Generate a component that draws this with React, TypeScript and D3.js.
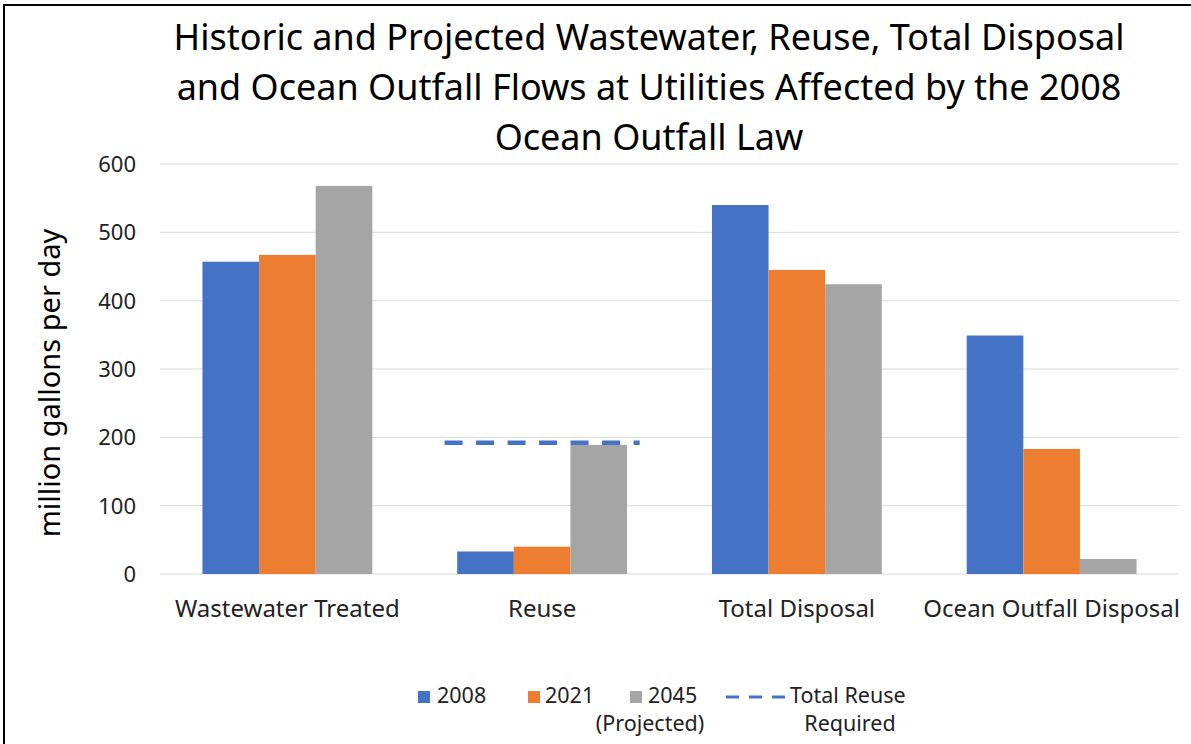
import React from "react";
import * as d3 from "d3";

const categories = ["Wastewater Treated", "Reuse", "Total Disposal", "Ocean Outfall Disposal"];
const seriesNames = ["2008", "2021", "2045"];
const values2008 = [457, 33, 540, 349];
const values2021 = [467, 40, 445, 183];
const values2045 = [568, 189, 424, 22];
const reuseRequired = 192;
const yTicks = [0, 100, 200, 300, 400, 500, 600];
const titleLines = [
  "Historic and Projected Wastewater, Reuse, Total Disposal",
  "and Ocean Outfall Flows at Utilities Affected by the 2008",
  "Ocean Outfall Law",
];
const colors = ["#4472C4", "#ED7D31", "#A5A5A5"];

const W = 1191;
const H = 744;
const FONT = "'Noto Sans', 'Open Sans', sans-serif";

export default function App() {
  const left = 160;
  const right = 1179;
  const top = 164;
  const bottom = 574;

  const x0 = d3.scaleBand<string>().domain(categories).range([left, right]).paddingInner(0).paddingOuter(0);
  const y = d3.scaleLinear().domain([0, 600]).range([bottom, top]);
  const groupW = x0.bandwidth() * (3 / 4.5);
  const x1 = d3
    .scaleBand<string>()
    .domain(seriesNames)
    .range([0, groupW]);
  const seriesValues = [values2008, values2021, values2045];

  const reuseCenter = (x0("Reuse") as number) + x0.bandwidth() / 2;
  const lineHalf = x0.bandwidth() * 0.383;

  return (
    <svg
      width={W}
      height={H}
      style={{ position: "absolute", left: 0, top: 0, background: "#fff" }}
      fontFamily={FONT}
    >
      <rect x={0} y={0} width={W} height={H} fill="#fff" />
      {/* border */}
      <line x1={4} y1={5} x2={W} y2={5} stroke="#000" strokeWidth={2} />
      <line x1={4} y1={4} x2={4} y2={H} stroke="#000" strokeWidth={2} />

      {/* title */}
      {titleLines.map((t, i) => (
        <text key={i} x={649} y={50 + i * 50} textAnchor="middle" fontSize={36} fill="#000">
          {t}
        </text>
      ))}

      {/* gridlines */}
      {yTicks.map((t) => (
        <line key={t} x1={left} x2={right} y1={y(t)} y2={y(t)} stroke="#D9D9D9" strokeWidth={1} />
      ))}

      {/* y tick labels */}
      {yTicks.map((t) => (
        <text key={"l" + t} x={136} y={y(t)} dy="0.36em" textAnchor="end" fontSize={22} fill="#222">
          {t}
        </text>
      ))}

      {/* y axis title */}
      <text
        transform={`translate(${60},${383}) rotate(-90)`}
        textAnchor="middle"
        fontSize={29}
        fill="#000"
      >
        million gallons per day
      </text>

      {/* bars */}
      {categories.map((c, ci) => {
        const gx = (x0(c) as number) + (x0.bandwidth() - groupW) / 2;
        return (
          <g key={c}>
            {seriesNames.map((s, si) => {
              const v = seriesValues[si][ci];
              return (
                <rect
                  key={s}
                  x={gx + (x1(s) as number)}
                  y={y(v)}
                  width={x1.bandwidth()}
                  height={y(0) - y(v)}
                  fill={colors[si]}
                />
              );
            })}
          </g>
        );
      })}

      {/* reuse required dashed line */}
      <line
        x1={reuseCenter - lineHalf}
        x2={reuseCenter + lineHalf}
        y1={y(reuseRequired)}
        y2={y(reuseRequired)}
        stroke="#4472C4"
        strokeWidth={4.5}
        strokeDasharray="18 13.5"
      />

      {/* category labels */}
      {categories.map((c) => (
        <text
          key={"c" + c}
          x={(x0(c) as number) + x0.bandwidth() / 2}
          y={617}
          textAnchor="middle"
          fontSize={24}
          fill="#222"
        >
          {c}
        </text>
      ))}

      {/* legend */}
      <g fontSize={21.5} fill="#222">
        <rect x={418} y={691} width={12} height={12} fill={colors[0]} />
        <text x={437} y={703}>2008</text>
        <rect x={528} y={691} width={12} height={12} fill={colors[1]} />
        <text x={545} y={703}>2021</text>
        <rect x={630} y={691} width={12} height={12} fill={colors[2]} />
        <text x={648} y={703}>2045</text>
        <text x={650} y={731} textAnchor="middle">(Projected)</text>
        <line x1={726} x2={785} y1={697} y2={697} stroke="#4472C4" strokeWidth={3} strokeDasharray="13 10" />
        <text x={790} y={703}>Total Reuse</text>
        <text x={850} y={731} textAnchor="middle">Required</text>
      </g>
    </svg>
  );
}
